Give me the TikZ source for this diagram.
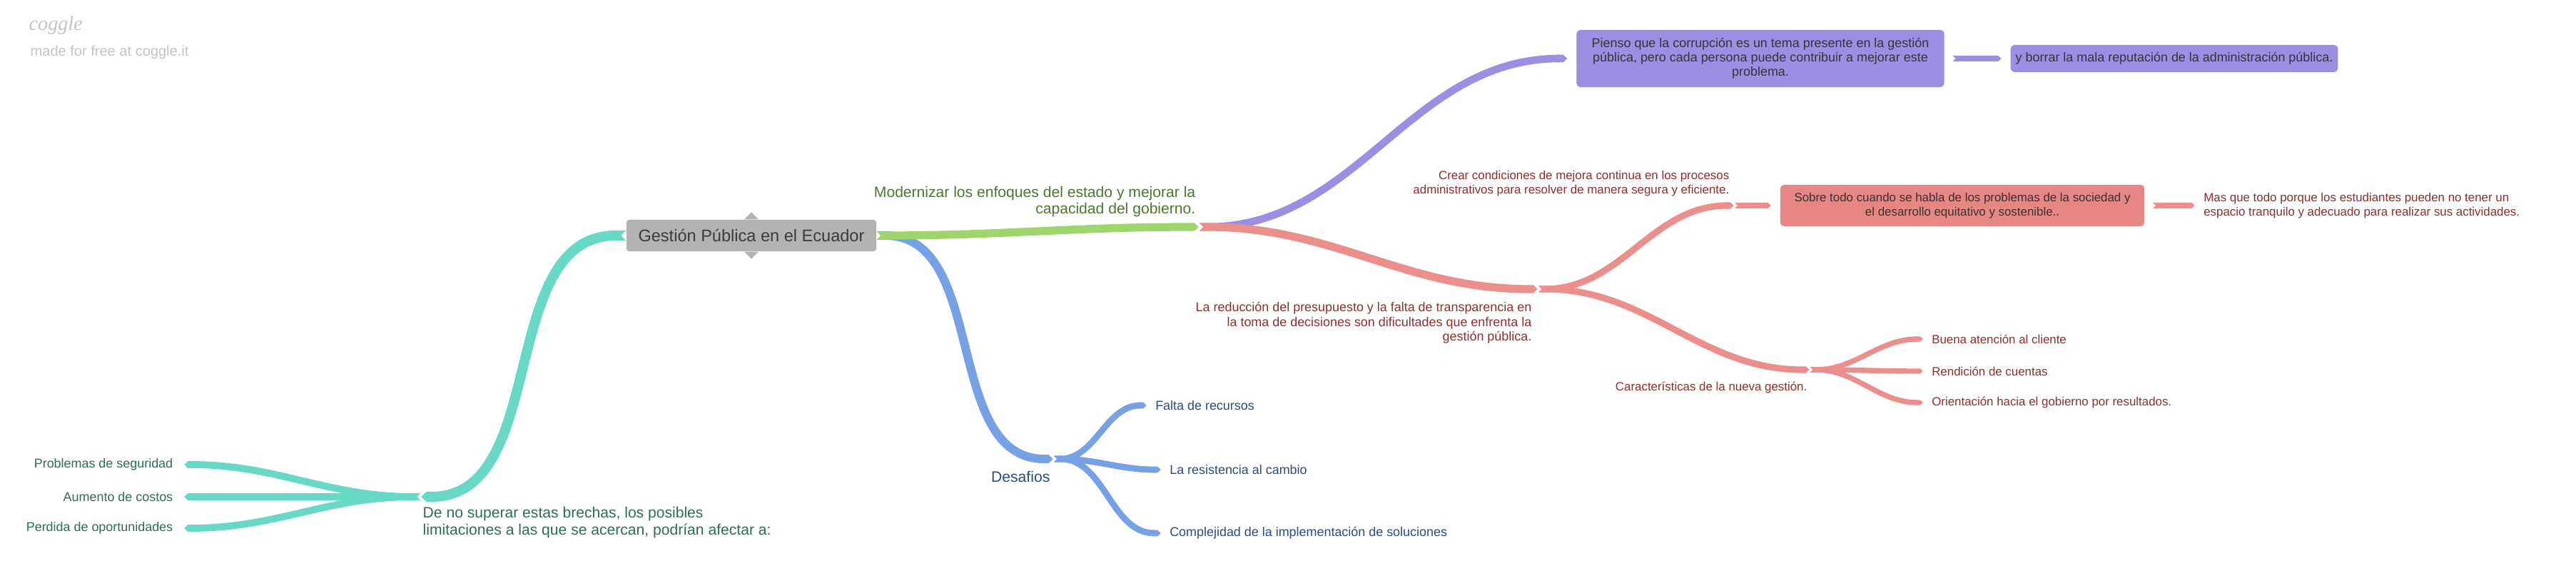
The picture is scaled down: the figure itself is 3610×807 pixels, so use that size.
\documentclass[tikz,border=0pt]{standalone}
\usepackage{tikz}
\usepackage{xcolor}
\usepackage{fontspec}
\setmainfont{Liberation Sans}
\newfontfamily\LogoFont{Liberation Serif}
\usetikzlibrary{arrows.meta}
\newcommand*{\BigFont}{\fontsize{6}{6.6}\selectfont}
\newcommand*{\SmallFont}{\fontsize{5.1}{5.75}\selectfont}
\newcommand*{\TinyFont}{\fontsize{4.8}{5.75}\selectfont}
\definecolor{logogray}{HTML}{C4C4C4}
\definecolor{rootgray}{HTML}{B3B3B3}
\definecolor{roottx}{HTML}{3B3B3B}
\definecolor{tealbr}{HTML}{67D9C4}
\definecolor{tealtx}{HTML}{2E6B5B}
\definecolor{bluebr}{HTML}{76A1E4}
\definecolor{bluetx}{HTML}{2D4A7C}
\definecolor{greenbr}{HTML}{9ED66B}
\definecolor{greentx}{HTML}{4E7530}
\definecolor{purplebr}{HTML}{9A8FE3}
\definecolor{boxtx}{HTML}{353535}
\definecolor{redbr}{HTML}{EA8F8C}
\definecolor{redbox}{HTML}{E78784}
\definecolor{redtx}{HTML}{8B2F2F}
\tikzset{
  branch/.style={line width=#1, {Triangle Cap[reversed]}-{Triangle Cap[]}, shorten >=0.4pt},
  biglabel/.style={inner sep=0pt, font=\BigFont},
  smalllabel/.style={inner sep=0pt, font=\SmallFont},
  leafleft/.style={anchor=east, inner xsep=4pt, inner ysep=0pt, font=\SmallFont},
  leafright/.style={anchor=west, inner xsep=3pt, inner ysep=0pt, font=\SmallFont},
  topicbox/.style={rounded corners=1.5pt, inner xsep=2pt, inner ysep=2.7pt, outer xsep=3.4pt, outer ysep=0pt, align=center, font=\SmallFont, text=boxtx}
}

\begin{document}
\begin{tikzpicture}[x=0.01cm,y=-0.01cm]
    \useasboundingbox (0,0) rectangle (3610,807);
    \node[anchor=west, inner sep=0pt, text=logogray, font=\LogoFont\itshape\fontsize{8}{8}\selectfont] (logo) at (40,36) {coggle};
    \node[anchor=west, inner sep=0pt, text=logogray, font=\fontsize{5.7}{6}\selectfont] (madefor) at (42,73) {made for free at coggle.it};

    \node[fill=rootgray, text=roottx, rounded corners=1pt, minimum width=3.5cm, minimum height=0.44cm, font=\fontsize{6.7}{7}\selectfont] (root) at (1053,330) {Gestión Pública en el Ecuador};
    \fill[rootgray] ([xshift=-1mm]root.north) -- ([yshift=1mm]root.north) -- ([xshift=1mm]root.north) -- cycle;
    \fill[rootgray] ([xshift=-1mm]root.south) -- ([yshift=-1mm]root.south) -- ([xshift=1mm]root.south) -- cycle;

    \coordinate (brechas) at (589,696);
    \coordinate (desafios) at (1477,643);
    \coordinate (modern) at (1681,318);
    \coordinate (reduccion) at (2156,405);
    \coordinate (crear) at (2431,288);
    \coordinate (caract) at (2537,518);

    \node[biglabel, text=tealtx, anchor=north west, align=left] (brechaslbl) at (592,710) {De no superar estas brechas, los posibles\\limitaciones a las que se acercan, podrían afectar a:};
    \node[biglabel, text=bluetx, anchor=east] (desafioslbl) at (1472,668) {Desafios};
    \node[biglabel, text=greentx, anchor=south east, align=right] (modernlbl) at (1676,305) {Modernizar los enfoques del estado y mejorar la\\capacidad del gobierno.};
    \node[smalllabel, text=redtx, anchor=north east, align=right] (reduccionlbl) at (2147,423) {La reducción del presupuesto y la falta de transparencia en\\la toma de decisiones son dificultades que enfrenta la\\gestión pública.};
    \node[smalllabel, text=redtx, anchor=south east, align=right, font=\TinyFont] (crearlbl) at (2424,276) {Crear condiciones de mejora continua en los procesos\\administrativos para resolver de manera segura y eficiente.};
    \node[smalllabel, text=redtx, anchor=east, font=\TinyFont] (caractlbl) at (2533,543) {Características de la nueva gestión.};

    \node[topicbox, fill=purplebr, minimum width=5.15cm, minimum height=0.8cm] (pienso) at (2467,82) {Pienso que la corrupción es un tema presente en la gestión\\pública, pero cada persona puede contribuir a mejorar este\\problema.};
    \node[topicbox, fill=purplebr, minimum width=4.5cm, minimum height=0.38cm] (borrar) at (3047,82) {y borrar la mala reputación de la administración pública.};
    \node[topicbox, fill=redbox, minimum width=5.1cm, minimum height=0.58cm, font=\TinyFont] (sobre) at (2750,288) {Sobre todo cuando se habla de los problemas de la sociedad y\\el desarrollo equitativo y sostenible..};
    \node[leafright, text=redtx, align=left, font=\TinyFont] (mas) at (3077,288) {Mas que todo porque los estudiantes pueden no tener un\\espacio tranquilo y adecuado para realizar sus actividades.};

    \node[leafleft, text=tealtx] (seguridad) at (257,651) {Problemas de seguridad};
    \node[leafleft, text=tealtx] (costos) at (257,696) {Aumento de costos};
    \node[leafleft, text=tealtx] (oportunidades) at (257,740) {Perdida de oportunidades};
    \node[leafright, text=bluetx] (recursos) at (1608,568) {Falta de recursos};
    \node[leafright, text=bluetx] (resistencia) at (1628,658) {La resistencia al cambio};
    \node[leafright, text=bluetx] (complejidad) at (1628,747) {Complejidad de la implementación de soluciones};
    \node[leafright, text=redtx, font=\TinyFont] (atencion) at (2696,475) {Buena atención al cliente};
    \node[leafright, text=redtx, font=\TinyFont] (rendicion) at (2696,520) {Rendición de cuentas};
    \node[leafright, text=redtx, font=\TinyFont] (orientacion) at (2696,564) {Orientación hacia el gobierno por resultados.};

    \draw[branch=4pt, tealbr] (root.west) to[out=180,in=0] (brechas);
    \foreach \leaf in {seguridad,costos,oportunidades}
        \draw[branch=2.8pt, tealbr] (brechas) to[out=180,in=0] (\leaf.east);
    \draw[branch=3.4pt, bluebr] (root.east) to[out=0,in=180] (desafios);
    \foreach \leaf in {recursos,resistencia,complejidad}
        \draw[branch=2.5pt, bluebr] (desafios) to[out=0,in=180] (\leaf.west);
    \draw[branch=3.2pt, greenbr] (root.east) to[out=0,in=180] (modern);
    \draw[branch=3pt, purplebr] (modern) to[out=0,in=180] (pienso.west);
    \draw[branch=2.3pt, purplebr] (pienso.east) -- (borrar.west);
    \draw[branch=3.2pt, redbr] (modern) to[out=0,in=180] (reduccion);
    \draw[branch=2.6pt, redbr] (reduccion) to[out=0,in=180] (crear);
    \draw[branch=2.3pt, redbr] (crear) -- (sobre.west);
    \draw[branch=2.3pt, redbr] (sobre.east) -- (mas.west);
    \draw[branch=2.6pt, redbr] (reduccion) to[out=0,in=180] (caract);
    \foreach \leaf in {atencion,rendicion,orientacion}
        \draw[branch=2.1pt, redbr] (caract) to[out=0,in=180] (\leaf.west);
\end{tikzpicture}
\end{document}
